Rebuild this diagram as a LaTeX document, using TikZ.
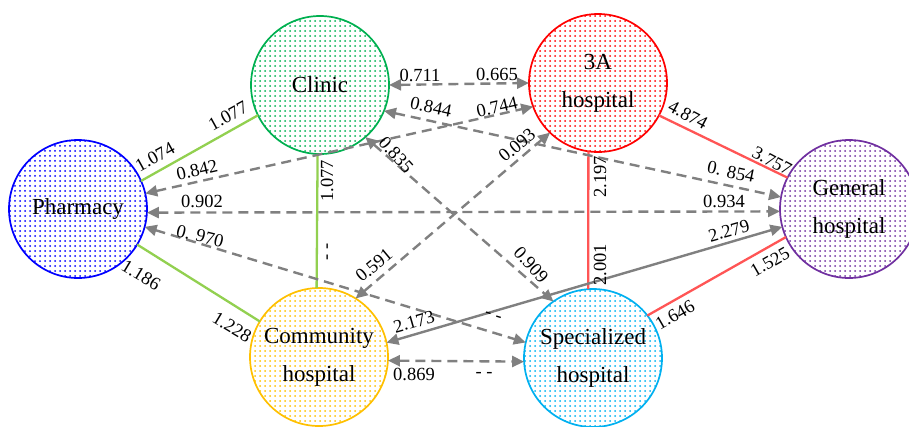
\documentclass[tikz,border=0pt]{standalone}
\usepackage{fontspec}
\setmainfont{Liberation Serif}
\usepackage{xcolor}
\usetikzlibrary{arrows.meta,patterns.meta,calc}
\definecolor{phablue}{HTML}{0000FF}
\definecolor{cligreen}{HTML}{00B050}
\definecolor{thared}{HTML}{FF0000}
\definecolor{genpurple}{HTML}{7030A0}
\definecolor{comyellow}{HTML}{FFC000}
\definecolor{specyan}{HTML}{00B0F0}
\definecolor{lgreen}{HTML}{92D050}
\definecolor{lred}{HTML}{FF5555}
\definecolor{lgray}{HTML}{808080}
\tikzset{
  hub/.style={circle, line width=1.7pt, minimum size=138pt, inner sep=0pt, outer sep=0pt,
              align=center, font=\fontsize{23}{38}\selectfont},
  dotted fill/.style={draw=#1, pattern={Dots[distance=5pt,radius=1pt]}, pattern color=#1},
  gline/.style={line width=2.3pt, lgreen},
  rline/.style={line width=2.3pt, lred},
  both/.style={{Triangle[length=12pt,width=11pt]}-{Triangle[length=12pt,width=11pt]}, line width=2.4pt, lgray},
  dsh/.style={both, dash pattern=on 10pt off 6pt},
  wt/.style={inner sep=0pt, font=\fontsize{18.5}{20}\selectfont},
}
\begin{document}
\begin{tikzpicture}[x=1pt,y=-1pt]
  \clip (0,0) rectangle (909,426);
  % the six hubs
  \node[hub,dotted fill=phablue]   (pha) at (78,209)  {Pharmacy};
  \node[hub,dotted fill=cligreen]  (cli) at (320,85)  {Clinic};
  \node[hub,dotted fill=thared]    (tha) at (598,83)  {3A\\hospital};
  \node[hub,dotted fill=genpurple] (gen) at (849,209) {General\\hospital};
  \node[hub,dotted fill=comyellow] (com) at (319,357) {Community\\hospital};
  \node[hub,dotted fill=specyan]   (spe) at (593,358) {Specialized\\hospital};
  % solid links
  \draw[gline] (pha.24) -- (cli.206);
  \draw[gline] (pha.-31) -- (com.149);
  \draw[gline] (cli.-92) -- (com.92);
  \draw[rline] (tha.-28) -- (gen.153);
  \draw[rline] (tha.262) -- (spe.94);
  \draw[rline] (spe.38) -- (gen.204);
  \draw[both] (com.12) -- (gen.195);
  % dashed links
  \draw[dsh] (cli.east) -- (tha.west);
  \draw[dsh] (pha.13) -- (tha.200);
  \draw[dsh] (cli.-22) -- (gen.170);
  \draw[dsh] (pha.-3) -- (gen.182);
  \draw[dsh] (pha.-15) -- (spe.167);
  \draw[dsh] (cli.-49) -- (spe.125);
  \draw[dsh] (com.58) -- (tha.226);
  \draw[dsh] (com.-3) -- (spe.183);
  % weights
  \node[wt,rotate=29]  (w1)  at (155,157) {1.074};
  \node[wt,rotate=29]  (w2)  at (228,116) {1.077};
  \node[wt,rotate=13]  (w3)  at (197,170) {0.842};
  \node[wt]            (w4)  at (202,201) {0.902};
  \node[wt,rotate=90]  (w5)  at (327,181) {1.077};
  \node[wt]            (w6)  at (420,75)  {0.711};
  \node[wt,rotate=-12] (w7)  at (431,107) {0.844};
  \node[wt,rotate=-48] (w8)  at (396,155) {0.835};
  \node[wt]            (w9)  at (497,74)  {0.665};
  \node[wt,rotate=13]  (w10) at (497,107) {0.744};
  \node[wt,rotate=40]  (w11) at (517,145) {0.093};
  \node[wt,rotate=-28] (w12) at (688,115) {4.874};
  \node[wt,rotate=90]  (w13) at (600,177) {2.197};
  \node[wt,rotate=-28] (w14) at (772,161) {3.757};
  \node[wt,rotate=-12] (w15) at (731,172) {0. 854};
  \node[wt]            (w16) at (724,201) {0.934};
  \node[wt,rotate=-14] (w17) at (200,236) {0. 970};
  \node[wt,rotate=-31] (w18) at (141,275) {1.186};
  \node[wt,rotate=-31] (w19) at (232,327) {1.228};
  \node[wt,rotate=90]  (w20) at (329,252) {- -};
  \node[wt,rotate=40]  (w21) at (374,265) {0.591};
  \node[wt,rotate=16]  (w22) at (414,322) {2.173};
  \node[wt]            (w23) at (414,374) {0.869};
  \node[wt,rotate=16]  (w24) at (729,231) {2.279};
  \node[wt,rotate=-48] (w25) at (531,265) {0.909};
  \node[wt,rotate=90]  (w26) at (600,265) {2.001};
  \node[wt,rotate=30]  (w27) at (770,262) {1.525};
  \node[wt,rotate=30]  (w28) at (675,315) {1.646};
  \node[wt]            (w29) at (484,375) {- -};
  \node[wt,rotate=-17] (w30) at (493,317) {- -};
\end{tikzpicture}
\end{document}
